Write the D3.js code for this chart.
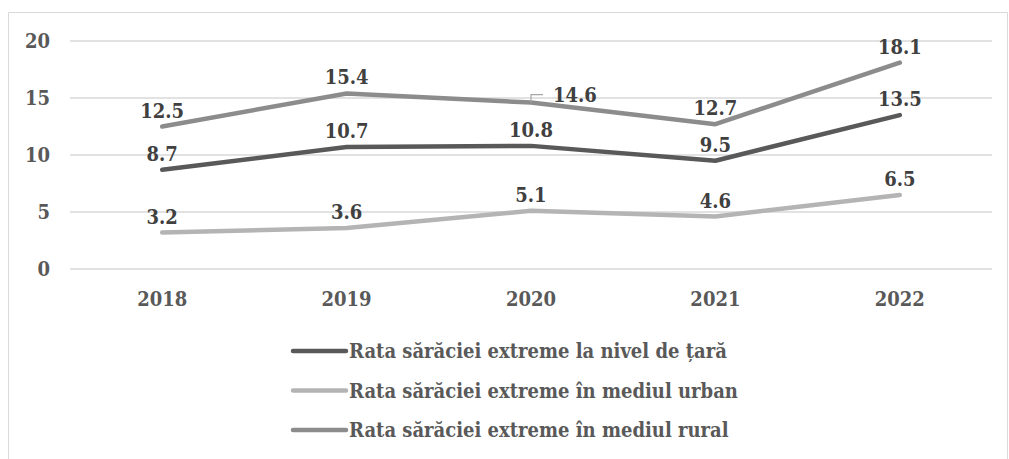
<!DOCTYPE html>
<html>
<head>
<meta charset="utf-8">
<script src="https://cdn.jsdelivr.net/npm/d3@7"></script>
<style>
  body { margin: 0; background: #fff; }
</style>
</head>
<body>
<svg id="chart" width="1009" height="459"></svg>
<script>
const YEARS = ["2018", "2019", "2020", "2021", "2022"];
const NATIONAL = [8.7, 10.7, 10.8, 9.5, 13.5];
const URBAN = [3.2, 3.6, 5.1, 4.6, 6.5];
const RURAL = [12.5, 15.4, 14.6, 12.7, 18.1];
const Y_TICKS = [0, 5, 10, 15, 20];
const SERIES = [
    { name: "Rata sărăciei extreme la nivel de țară", values: NATIONAL, color: "#595959" },
    { name: "Rata sărăciei extreme în mediul urban", values: URBAN, color: "#b4b4b4" },
    { name: "Rata sărăciei extreme în mediul rural", values: RURAL, color: "#8c8c8c" }
];
const FONT = 20;
const FAMILY = "'DejaVu Serif Condensed', 'DejaVu Serif', serif";

let svg = d3.select("#chart")
    .style("font-family", FAMILY)
    .style("font-stretch", "condensed")
    .style("font-weight", "bold");

// outer frame (only left/top/right visible)
svg.append("path")
    .attr("d", "M8.5,459 V12.5 H1007.5 V459")
    .attr("fill", "none")
    .attr("stroke", "#d9d9d9")
    .attr("stroke-width", 1);

let x = d3.scaleBand().domain(YEARS).range([70, 992]);
let y = d3.scaleLinear().domain([0, 20]).range([269, 41]);

// gridlines
svg.append("g").selectAll("line")
    .data(Y_TICKS)
    .enter()
    .append("line")
    .attr("x1", 70).attr("x2", 992)
    .attr("y1", d => y(d)).attr("y2", d => y(d))
    .attr("stroke", "#d9d9d9")
    .attr("stroke-width", 1.5);

// y tick labels
svg.append("g").selectAll("text")
    .data(Y_TICKS)
    .enter()
    .append("text")
    .attr("x", 50)
    .attr("y", d => y(d))
    .attr("dy", "0.36em")
    .attr("text-anchor", "end")
    .attr("font-size", FONT)
    .attr("fill", "#595959")
    .text(d => d);

// x tick labels
svg.append("g").selectAll("text")
    .data(YEARS)
    .enter()
    .append("text")
    .attr("x", d => x(d) + x.bandwidth() / 2)
    .attr("y", 306)
    .attr("text-anchor", "middle")
    .attr("font-size", FONT)
    .attr("fill", "#595959")
    .text(d => d);

let line = d3.line()
    .x((d, i) => x(YEARS[i]) + x.bandwidth() / 2)
    .y(d => y(d));

// draw order: rural, national, urban
[SERIES[2], SERIES[0], SERIES[1]].forEach(function(s){
    svg.append("path")
        .datum(s.values)
        .attr("d", line)
        .attr("fill", "none")
        .attr("stroke", s.color)
        .attr("stroke-width", 4.5)
        .attr("stroke-linecap", "round")
        .attr("stroke-linejoin", "round");
});

// data labels
SERIES.forEach(function(s){
    svg.append("g").selectAll("text")
        .data(s.values)
        .enter()
        .append("text")
        .attr("x", (d, i) => {
            let cx = x(YEARS[i]) + x.bandwidth() / 2;
            // 2020 rural label moved to the right with a leader line
            return (s.values === RURAL && i === 2) ? cx + 22 : cx;
        })
        .attr("y", (d, i) => (s.values === RURAL && i === 2) ? y(d) - 1 : y(d) - 9)
        .attr("text-anchor", (d, i) => (s.values === RURAL && i === 2) ? "start" : "middle")
        .attr("font-size", FONT)
        .attr("fill", "#404040")
        .text(d => d.toFixed(1));
});

// leader line for 14.6
let lx = x(YEARS[2]) + x.bandwidth() / 2;
let ly = y(RURAL[2]);
svg.append("path")
    .attr("d", `M${lx},${ly} V${ly - 8} H${lx + 12}`)
    .attr("fill", "none")
    .attr("stroke", "#a6a6a6")
    .attr("stroke-width", 1.2);

// legend
let legend = svg.append("g").selectAll("g")
    .data(SERIES)
    .enter()
    .append("g")
    .attr("transform", (d, i) => `translate(0, ${351 + i * 39.5})`);

legend.append("line")
    .attr("x1", 293).attr("x2", 346)
    .attr("y1", 0).attr("y2", 0)
    .attr("stroke", d => d.color)
    .attr("stroke-width", 4.5)
    .attr("stroke-linecap", "round");

legend.append("text")
    .attr("x", 349)
    .attr("y", 0)
    .attr("dy", "0.36em")
    .attr("font-size", FONT)
    .attr("fill", "#595959")
    .text(d => d.name);
</script>
</body>
</html>
